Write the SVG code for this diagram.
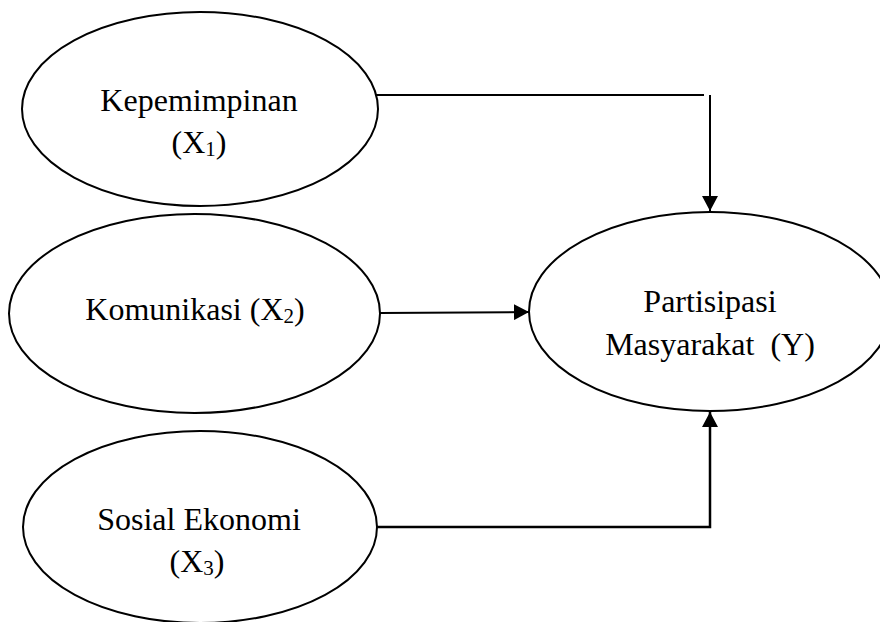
<svg xmlns="http://www.w3.org/2000/svg" width="880" height="622" viewBox="0 0 880 622">
<style>
.node ellipse{fill:#fff;stroke:#000;stroke-width:2}
.lbl{font-family:"Liberation Serif","Times New Roman",serif;font-size:32px;fill:#000;text-anchor:middle}
.sub{font-size:21px}
.conn{fill:none;stroke:#000;stroke-width:2}
</style>
<defs>
<marker id="arr" viewBox="0 0 15 16" refX="15" refY="8" markerWidth="15" markerHeight="16" markerUnits="userSpaceOnUse" orient="auto">
<path d="M0,0 L15,8 L0,16 Z" fill="#000"/>
</marker>
</defs>
<rect width="880" height="622" fill="#fff"/>
<g id="connectors">
<path class="conn" d="M376,95 H704"/>
<path class="conn" d="M710,95 V211" marker-end="url(#arr)"/>
<path class="conn" d="M380,313 L529,312" marker-end="url(#arr)"/>
<path class="conn" style="stroke-width:2.5" d="M377,527 H710 V412" marker-end="url(#arr)"/>
</g>
<g id="kepemimpinan" class="node">
<ellipse cx="200" cy="109" rx="178" ry="97"/>
<text class="lbl" x="199" y="111">Kepemimpinan</text>
<text class="lbl" x="199" y="153">(X<tspan class="sub" dy="3">1</tspan><tspan dy="-3">)</tspan></text>
</g>
<g id="komunikasi" class="node">
<ellipse cx="194.5" cy="313.5" rx="185.5" ry="99.5"/>
<text class="lbl" x="195" y="320">Komunikasi (X<tspan class="sub" dy="3">2</tspan><tspan dy="-3">)</tspan></text>
</g>
<g id="sosial-ekonomi" class="node">
<ellipse cx="200" cy="527" rx="177" ry="96"/>
<text class="lbl" x="199" y="530">Sosial Ekonomi</text>
<text class="lbl" x="197" y="572">(X<tspan class="sub" dy="3">3</tspan><tspan dy="-3">)</tspan></text>
</g>
<g id="partisipasi" class="node">
<ellipse cx="710" cy="311.5" rx="181" ry="99.5"/>
<text class="lbl" x="710" y="312">Partisipasi</text>
<text class="lbl" x="710" y="355" xml:space="preserve">Masyarakat  (Y)</text>
</g>
</svg>
